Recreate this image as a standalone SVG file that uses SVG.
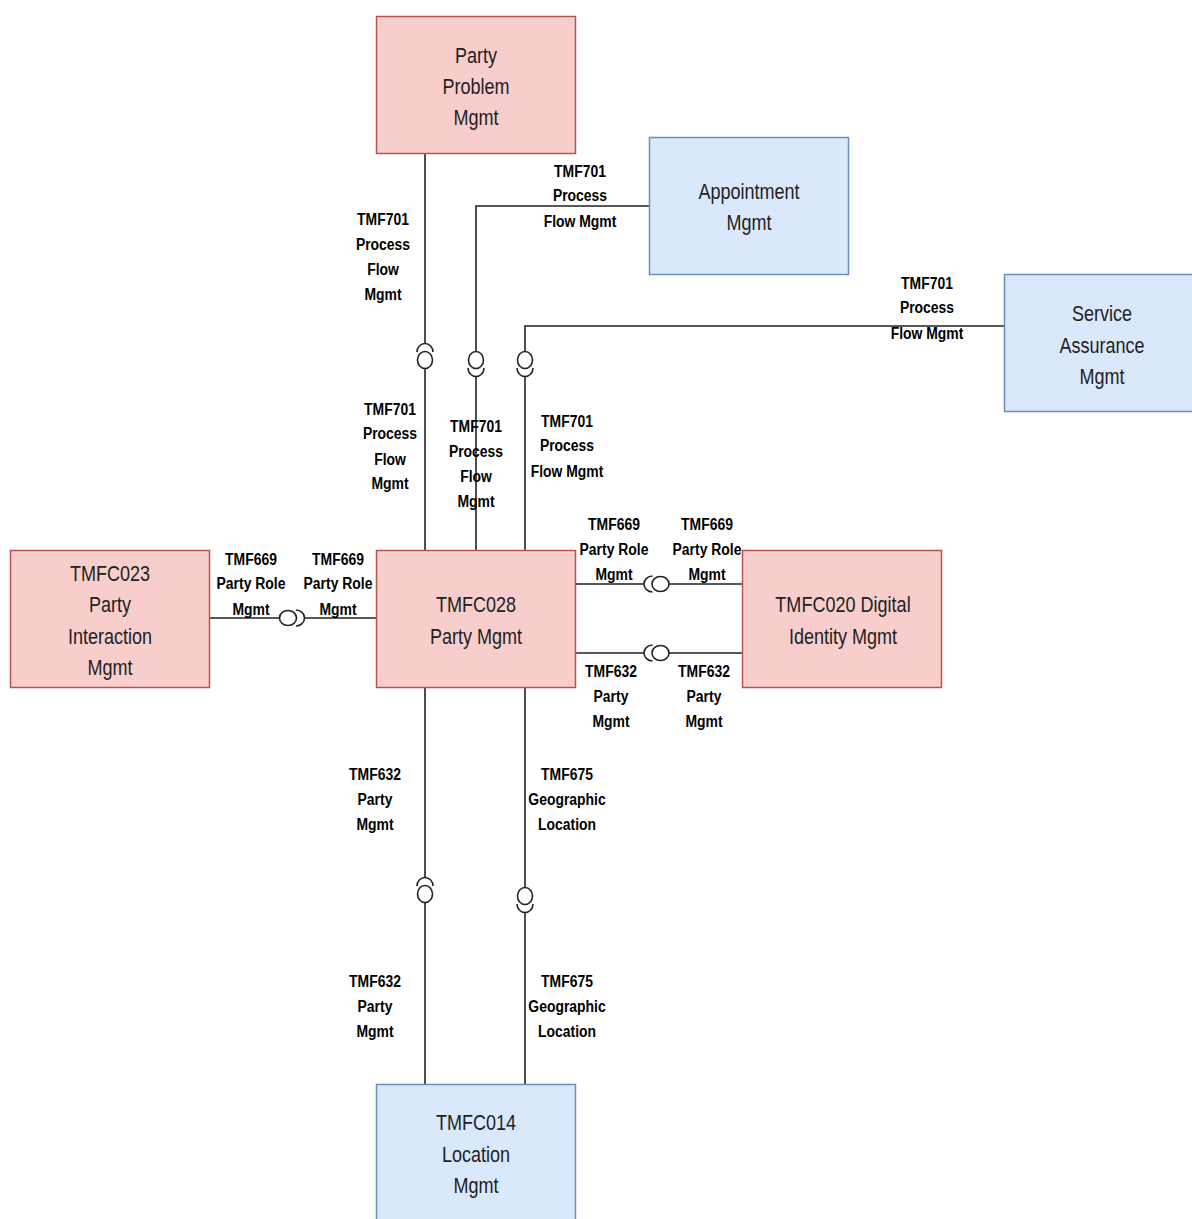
<svg xmlns="http://www.w3.org/2000/svg" xmlns:xlink="http://www.w3.org/1999/xlink" width="1192" height="1219" viewBox="0 0 1192 1219">
  <style>
    .red rect { fill: #f8cecc; stroke: #b85450; stroke-width: 1.5; }
    .blue rect { fill: #dae8fc; stroke: #6c8ebf; stroke-width: 1.5; }
    .node text { font-family: "Liberation Sans", Arial, sans-serif; font-size: 22px; fill: #222; text-anchor: middle; }
    .wire { fill: none; stroke: #222; stroke-width: 1.6; }
    .lbl { font-family: "Liberation Sans", Arial, sans-serif; font-size: 17px; font-weight: bold; fill: #000; text-anchor: middle; }
    .sym { fill: none; stroke: #222; stroke-width: 1.6; }
  </style>
  <defs>
    <!-- ball-and-socket: socket arc on the -y side, ball centred at origin -->
    <g id="sock">
      <path class="sym" d="M-8,-8 A8,8.5 0 0 1 8,-8"/>
      <ellipse class="sym" cx="0" cy="0" rx="7.5" ry="8.5" fill="#fff"/>
    </g>
  </defs>

  <rect width="1192" height="1219" fill="#fff"/>

  <!-- connectors -->
  <g id="connectors">
    <!-- Party Problem Mgmt <-> TMFC028 -->
    <path class="wire" d="M425,153.5 V343.5 M425,368.5 V550.5"/>
    <use xlink:href="#sock" transform="translate(425,360)"/>
    <!-- Appointment Mgmt <-> TMFC028 -->
    <path class="wire" d="M649,206 H476 V351.5 M476,376.5 V550.5"/>
    <use xlink:href="#sock" transform="translate(476,360) rotate(180)"/>
    <!-- Service Assurance Mgmt <-> TMFC028 -->
    <path class="wire" d="M1004,326 H525 V351.5 M525,376.5 V550.5"/>
    <use xlink:href="#sock" transform="translate(525,360) rotate(180)"/>
    <!-- TMFC023 <-> TMFC028 -->
    <path class="wire" d="M209,618 H280 M304.5,618 H376"/>
    <use xlink:href="#sock" transform="translate(288,618) rotate(90)"/>
    <!-- TMFC028 <-> TMFC020 (TMF669) -->
    <path class="wire" d="M575,584 H644 M669,584 H742"/>
    <use xlink:href="#sock" transform="translate(660.5,584) rotate(-90)"/>
    <!-- TMFC028 <-> TMFC020 (TMF632) -->
    <path class="wire" d="M575,653 H644 M669,653 H742"/>
    <use xlink:href="#sock" transform="translate(660.5,653) rotate(-90)"/>
    <!-- TMFC028 <-> TMFC014 (TMF632) -->
    <path class="wire" d="M425,688 V877.5 M425,902.5 V1084"/>
    <use xlink:href="#sock" transform="translate(425,894)"/>
    <!-- TMFC028 <-> TMFC014 (TMF675) -->
    <path class="wire" d="M525,688 V887.5 M525,912.5 V1084"/>
    <use xlink:href="#sock" transform="translate(525,896) rotate(180)"/>

    <!-- interface labels (narrowed horizontally) -->
    <text class="lbl" transform="translate(383,0) scale(0.82,1)"><tspan x="0" y="225">TMF701</tspan><tspan x="0" y="250">Process</tspan><tspan x="0" y="275">Flow</tspan><tspan x="0" y="300">Mgmt</tspan></text>
    <text class="lbl" transform="translate(390,0) scale(0.82,1)"><tspan x="0" y="415">TMF701</tspan><tspan x="0" y="439">Process</tspan><tspan x="0" y="465">Flow</tspan><tspan x="0" y="489">Mgmt</tspan></text>
    <text class="lbl" transform="translate(580,0) scale(0.82,1)"><tspan x="0" y="177">TMF701</tspan><tspan x="0" y="201">Process</tspan><tspan x="0" y="227">Flow Mgmt</tspan></text>
    <text class="lbl" transform="translate(476,0) scale(0.82,1)"><tspan x="0" y="432">TMF701</tspan><tspan x="0" y="457">Process</tspan><tspan x="0" y="482">Flow</tspan><tspan x="0" y="507">Mgmt</tspan></text>
    <text class="lbl" transform="translate(927,0) scale(0.82,1)"><tspan x="0" y="289">TMF701</tspan><tspan x="0" y="313">Process</tspan><tspan x="0" y="339">Flow Mgmt</tspan></text>
    <text class="lbl" transform="translate(567,0) scale(0.82,1)"><tspan x="0" y="427">TMF701</tspan><tspan x="0" y="451">Process</tspan><tspan x="0" y="477">Flow Mgmt</tspan></text>
    <text class="lbl" transform="translate(251,0) scale(0.82,1)"><tspan x="0" y="565">TMF669</tspan><tspan x="0" y="589">Party Role</tspan><tspan x="0" y="615">Mgmt</tspan></text>
    <text class="lbl" transform="translate(338,0) scale(0.82,1)"><tspan x="0" y="565">TMF669</tspan><tspan x="0" y="589">Party Role</tspan><tspan x="0" y="615">Mgmt</tspan></text>
    <text class="lbl" transform="translate(614,0) scale(0.82,1)"><tspan x="0" y="530">TMF669</tspan><tspan x="0" y="555">Party Role</tspan><tspan x="0" y="580">Mgmt</tspan></text>
    <text class="lbl" transform="translate(707,0) scale(0.82,1)"><tspan x="0" y="530">TMF669</tspan><tspan x="0" y="555">Party Role</tspan><tspan x="0" y="580">Mgmt</tspan></text>
    <text class="lbl" transform="translate(611,0) scale(0.82,1)"><tspan x="0" y="677">TMF632</tspan><tspan x="0" y="702">Party</tspan><tspan x="0" y="727">Mgmt</tspan></text>
    <text class="lbl" transform="translate(704,0) scale(0.82,1)"><tspan x="0" y="677">TMF632</tspan><tspan x="0" y="702">Party</tspan><tspan x="0" y="727">Mgmt</tspan></text>
    <text class="lbl" transform="translate(375,0) scale(0.82,1)"><tspan x="0" y="780">TMF632</tspan><tspan x="0" y="805">Party</tspan><tspan x="0" y="830">Mgmt</tspan></text>
    <text class="lbl" transform="translate(375,0) scale(0.82,1)"><tspan x="0" y="987">TMF632</tspan><tspan x="0" y="1012">Party</tspan><tspan x="0" y="1037">Mgmt</tspan></text>
    <text class="lbl" transform="translate(567,0) scale(0.82,1)"><tspan x="0" y="780">TMF675</tspan><tspan x="0" y="805">Geographic</tspan><tspan x="0" y="830">Location</tspan></text>
    <text class="lbl" transform="translate(567,0) scale(0.82,1)"><tspan x="0" y="987">TMF675</tspan><tspan x="0" y="1012">Geographic</tspan><tspan x="0" y="1037">Location</tspan></text>
  </g>

  <!-- components -->
  <g id="party-problem-mgmt" class="node red">
    <rect x="376.5" y="16.5" width="199" height="137"/>
    <text transform="translate(476,0) scale(0.82,1)"><tspan x="0" y="63">Party</tspan><tspan x="0" y="94">Problem</tspan><tspan x="0" y="125">Mgmt</tspan></text>
  </g>
  <g id="appointment-mgmt" class="node blue">
    <rect x="649.5" y="137.5" width="199" height="137"/>
    <text transform="translate(749,0) scale(0.82,1)"><tspan x="0" y="199">Appointment</tspan><tspan x="0" y="230">Mgmt</tspan></text>
  </g>
  <g id="service-assurance-mgmt" class="node blue">
    <rect x="1004.5" y="274.5" width="199" height="137"/>
    <text transform="translate(1102,0) scale(0.82,1)"><tspan x="0" y="321">Service</tspan><tspan x="0" y="353">Assurance</tspan><tspan x="0" y="384">Mgmt</tspan></text>
  </g>
  <g id="tmfc023" class="node red">
    <rect x="10.5" y="550.5" width="199" height="137"/>
    <text transform="translate(110,0) scale(0.82,1)"><tspan x="0" y="581">TMFC023</tspan><tspan x="0" y="612">Party</tspan><tspan x="0" y="644">Interaction</tspan><tspan x="0" y="675">Mgmt</tspan></text>
  </g>
  <g id="tmfc028" class="node red">
    <rect x="376.5" y="550.5" width="199" height="137"/>
    <text transform="translate(476,0) scale(0.82,1)"><tspan x="0" y="612">TMFC028</tspan><tspan x="0" y="644">Party Mgmt</tspan></text>
  </g>
  <g id="tmfc020" class="node red">
    <rect x="742.5" y="550.5" width="199" height="137"/>
    <text transform="translate(843,0) scale(0.82,1)"><tspan x="0" y="612">TMFC020 Digital</tspan><tspan x="0" y="644">Identity Mgmt</tspan></text>
  </g>
  <g id="tmfc014" class="node blue">
    <rect x="376.5" y="1084.5" width="199" height="137"/>
    <text transform="translate(476,0) scale(0.82,1)"><tspan x="0" y="1130">TMFC014</tspan><tspan x="0" y="1162">Location</tspan><tspan x="0" y="1193">Mgmt</tspan></text>
  </g>
</svg>
